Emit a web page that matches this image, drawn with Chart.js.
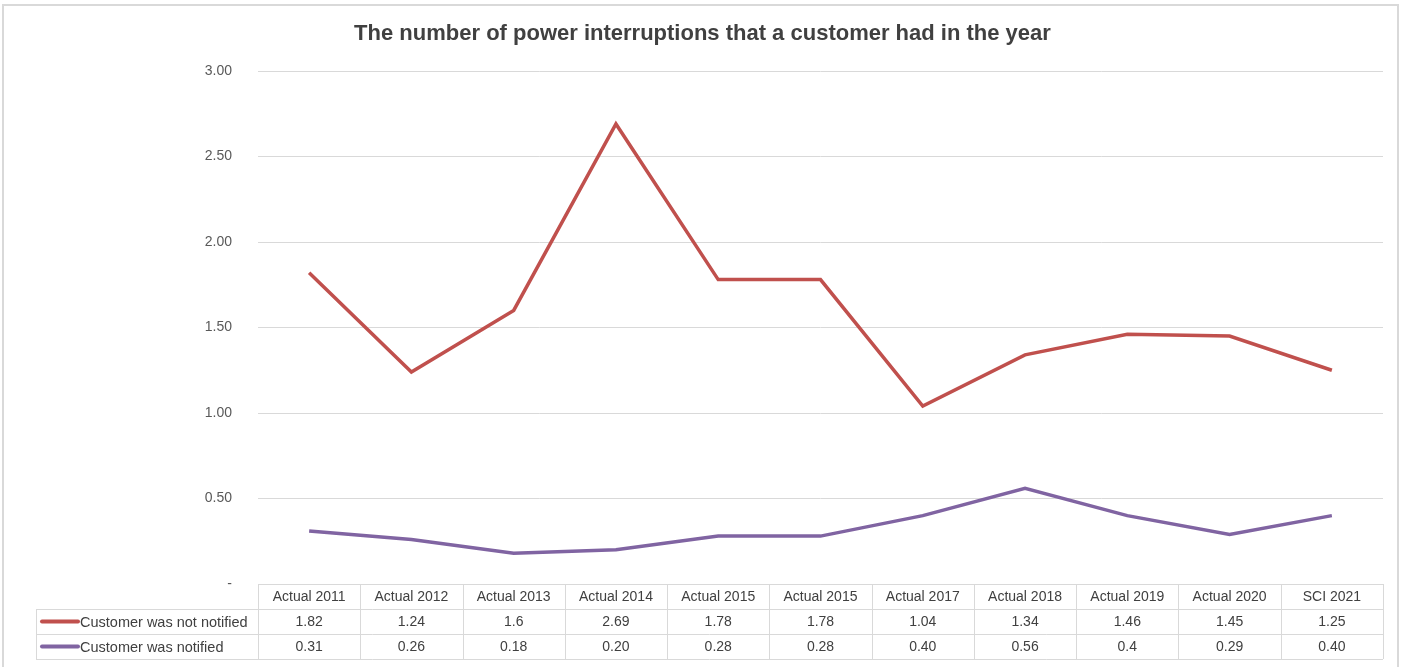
<!DOCTYPE html>
<html>
<head>
<meta charset="utf-8">
<script src="https://cdn.jsdelivr.net/npm/chart.js@4"></script>
<style>
html,body{margin:0;padding:0;background:#fff;width:1405px;height:667px;overflow:hidden;}
#frame{position:absolute;left:2px;top:4px;width:1397px;height:700px;border:2px solid #d9d9d9;box-sizing:border-box;}
#wrap{position:absolute;left:0;top:0;width:1405px;height:667px;}
</style>
</head>
<body>
<div id="frame"></div>
<div id="wrap"><canvas id="c" width="1405" height="667"></canvas></div>
<script>
const categories = ["Actual 2011","Actual 2012","Actual 2013","Actual 2014","Actual 2015","Actual 2015","Actual 2017","Actual 2018","Actual 2019","Actual 2020","SCI 2021"];
const notNotified = [1.82,1.24,1.6,2.69,1.78,1.78,1.04,1.34,1.46,1.45,1.25];
const notNotifiedText = ["1.82","1.24","1.6","2.69","1.78","1.78","1.04","1.34","1.46","1.45","1.25"];
const notified = [0.31,0.26,0.18,0.20,0.28,0.28,0.40,0.56,0.4,0.29,0.40];
const notifiedText = ["0.31","0.26","0.18","0.20","0.28","0.28","0.40","0.56","0.4","0.29","0.40"];
const seriesNames = ["Customer was not notified","Customer was notified"];
const titleText = "The number of power interruptions that a customer had in the year";

const FONT = "'Liberation Sans', Arial, sans-serif";
const mc = document.createElement('canvas').getContext('2d');
mc.font = "bold 20px " + FONT;
const tSize = Math.min(22, 20 * 697 / mc.measureText(titleText).width);

const tablePlugin = {
  id: 'dataTable',
  afterDraw(chart) {
    const ctx = chart.ctx;
    const xs = chart.scales.x;
    const area = chart.chartArea;
    const n = categories.length;
    const colW = (area.right - area.left) / n;
    const rowH = 25;
    const top = area.bottom;
    const labelLeft = 36;
    ctx.save();
    ctx.strokeStyle = '#d9d9d9';
    ctx.lineWidth = 1;
    ctx.beginPath();
    ctx.moveTo(area.left, top + 0.5); ctx.lineTo(area.right, top + 0.5);
    for (let r = 1; r <= 3; r++) {
      const y = Math.round(top + r * rowH) + 0.5;
      ctx.moveTo(labelLeft, y);
      ctx.lineTo(area.right, y);
    }
    for (let i = 0; i <= n; i++) {
      const x = Math.round(xs.getPixelForValue(0) - colW / 2 + i * colW) + 0.5;
      ctx.moveTo(x, top); ctx.lineTo(x, top + 3 * rowH);
    }
    ctx.moveTo(labelLeft + 0.5, top + rowH); ctx.lineTo(labelLeft + 0.5, top + 3 * rowH);
    ctx.stroke();

    ctx.fillStyle = '#404040';
    ctx.font = "14px " + FONT;
    ctx.textAlign = 'center';
    ctx.textBaseline = 'middle';
    const rows = [notNotifiedText, notifiedText];
    for (let i = 0; i < n; i++) {
      const cx = xs.getPixelForValue(i);
      ctx.fillText(categories[i], cx, top + rowH / 2 + 1);
      ctx.fillText(rows[0][i], cx, top + rowH * 1.5 + 1);
      ctx.fillText(rows[1][i], cx, top + rowH * 2.5 + 1);
    }
    const ds = chart.data.datasets;
    ctx.textAlign = 'left';
    ctx.font = "14.5px " + FONT;
    for (let r = 0; r < 2; r++) {
      const y = top + rowH * (1.5 + r);
      ctx.strokeStyle = ds[r].borderColor;
      ctx.lineWidth = 4;
      ctx.lineCap = 'round';
      ctx.beginPath();
      ctx.moveTo(42, y); ctx.lineTo(78, y);
      ctx.stroke();
      ctx.fillText(seriesNames[r], 80, y + 1);
    }
    ctx.restore();
  }
};

new Chart(document.getElementById('c'), {
  type: 'line',
  data: {
    labels: categories,
    datasets: [
      { label: seriesNames[0], data: notNotified, borderColor: '#C0504D', backgroundColor: '#C0504D', borderWidth: 3.5, pointRadius: 0, tension: 0 },
      { label: seriesNames[1], data: notified, borderColor: '#8064A2', backgroundColor: '#8064A2', borderWidth: 3.5, pointRadius: 0, tension: 0 }
    ]
  },
  options: {
    responsive: false,
    animation: false,
    layout: { padding: { left: 0, right: 0, top: 0, bottom: 83 } },
    plugins: {
      legend: { display: false },
      tooltip: { enabled: false },
      title: {
        display: true,
        text: titleText,
        color: '#404040',
        font: { family: FONT, size: tSize, weight: 'bold', lineHeight: 1.2 },
        padding: { top: 34 - tSize * 0.6, bottom: 71 - 34 - tSize * 0.6 }
      }
    },
    scales: {
      x: { display: false, offset: true },
      y: {
        min: 0, max: 3,
        border: { display: false },
        grid: { color: '#d9d9d9', lineWidth: 1, drawTicks: false },
        ticks: {
          stepSize: 0.5,
          padding: 26,
          color: '#595959',
          font: { family: FONT, size: 14 },
          callback: v => v === 0 ? '-' : v.toFixed(2)
        },
        afterFit: s => { s.width = 258; }
      },
      yRight: {
        position: 'right',
        min: 0, max: 3,
        border: { display: false },
        grid: { display: false, drawTicks: false },
        ticks: { display: false },
        afterFit: s => { s.width = 22; }
      }
    }
  },
  plugins: [tablePlugin]
});
</script>
</body>
</html>
